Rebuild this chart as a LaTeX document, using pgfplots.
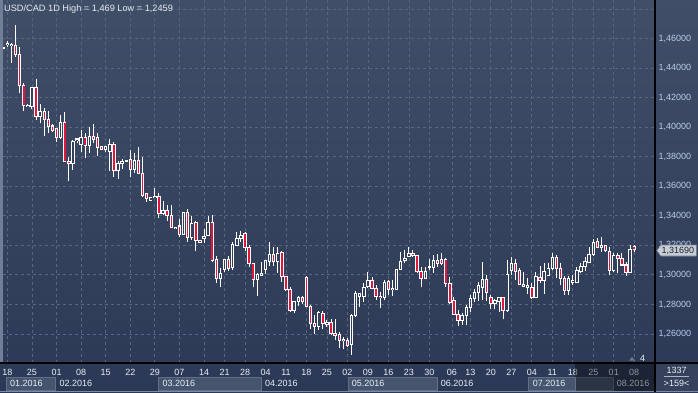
\documentclass[border=0pt]{standalone}
\usepackage{fontspec}
\setmainfont{Liberation Sans}
\usepackage{pgfplots}
\pgfplotsset{compat=1.18}
\usepackage{pgfplotstable}
\definecolor{bgtop}{RGB}{64,78,104}
\definecolor{bgbot}{RGB}{44,57,86}
\definecolor{gridc}{RGB}{88,102,130}
\definecolor{candred}{RGB}{226,22,60}
\definecolor{hollow}{RGB}{51,64,92}
\definecolor{ylab}{RGB}{186,204,232}
\definecolor{xlab}{RGB}{232,238,246}
\definecolor{monbox}{RGB}{70,84,110}
\definecolor{monborder}{RGB}{96,110,136}
\definecolor{panel}{RGB}{54,66,92}
\definecolor{tagc}{RGB}{200,204,212}
\definecolor{tagborder}{RGB}{120,128,142}
\definecolor{leftstrip}{RGB}{112,126,152}
\definecolor{sepc}{RGB}{170,180,196}
\definecolor{markc}{RGB}{110,122,146}
\definecolor{botline}{RGB}{128,138,156}
\definecolor{tagtext}{RGB}{30,36,52}
\definecolor{titlec}{RGB}{228,234,242}
\pgfplotstableread{
i o h l c
1 1.4533 1.4546 1.4526 1.4539
2 1.4560 1.4586 1.4545 1.4567
3 1.4556 1.4572 1.4433 1.4563
4 1.4556 1.4692 1.4477 1.4495
5 1.4495 1.4541 1.4229 1.4279
6 1.4279 1.4301 1.4112 1.4150
7 1.4140 1.4157 1.4135 1.4150
8 1.4139 1.4274 1.4121 1.4270
9 1.4270 1.4326 1.4049 1.4071
10 1.4071 1.4157 1.4026 1.4103
11 1.4103 1.4130 1.3940 1.4049
12 1.4049 1.4112 1.3959 1.4003
13 1.4008 1.4022 1.3969 1.3976
14 1.3988 1.3992 1.3902 1.3932
15 1.3927 1.4082 1.3918 1.4035
16 1.4035 1.4105 1.3766 1.3766
17 1.3766 1.3800 1.3638 1.3751
18 1.3751 1.3913 1.3710 1.3906
19 1.3909 1.3925 1.3891 1.3920
20 1.3886 1.3981 1.3834 1.3932
21 1.3932 1.3959 1.3789 1.3875
22 1.3875 1.3999 1.3823 1.3936
23 1.3936 1.4022 1.3891 1.3918
24 1.3927 1.3959 1.3805 1.3864
25 1.3866 1.3868 1.3846 1.3849
26 1.3846 1.3873 1.3834 1.3869
27 1.3837 1.3918 1.3705 1.3886
28 1.3886 1.3902 1.3665 1.3705
29 1.3705 1.3773 1.3649 1.3756
30 1.3751 1.3783 1.3715 1.3766
31 1.3770 1.3778 1.3766 1.3774
32 1.3783 1.3846 1.3661 1.3715
33 1.3715 1.3823 1.3692 1.3773
34 1.3773 1.3864 1.3683 1.3688
35 1.3688 1.3800 1.3529 1.3536
36 1.3548 1.3552 1.3496 1.3514
37 1.3507 1.3527 1.3504 1.3525
38 1.3527 1.3588 1.3521 1.3534
39 1.3534 1.3552 1.3383 1.3417
40 1.3417 1.3502 1.3405 1.3433
41 1.3433 1.3473 1.3367 1.3399
42 1.3399 1.3473 1.3315 1.3322
43 1.3314 1.3326 1.3313 1.3324
44 1.3331 1.3376 1.3259 1.3275
45 1.3275 1.3428 1.3270 1.3421
46 1.3421 1.3444 1.3225 1.3255
47 1.3255 1.3399 1.3236 1.3349
48 1.3353 1.3367 1.3164 1.3232
49 1.3233 1.3236 1.3214 1.3216
50 1.3245 1.3309 1.3218 1.3263
51 1.3268 1.3399 1.3263 1.3358
52 1.3358 1.3408 1.3089 1.3096
53 1.3101 1.3128 1.2947 1.2974
54 1.2974 1.3045 1.2920 1.3011
55 1.3038 1.3110 1.3022 1.3106
56 1.3106 1.3128 1.3028 1.3045
57 1.3051 1.3225 1.3033 1.3209
58 1.3202 1.3292 1.3196 1.3248
59 1.3248 1.3299 1.3225 1.3270
60 1.3277 1.3292 1.3164 1.3187
61 1.3187 1.3202 1.3051 1.3079
62 1.3079 1.3083 1.2916 1.2970
63 1.2970 1.3011 1.2857 1.3006
64 1.2999 1.3089 1.2999 1.3011
65 1.3038 1.3096 1.3006 1.3096
66 1.3089 1.3225 1.3060 1.3141
67 1.3141 1.3191 1.3060 1.3089
68 1.3089 1.3187 1.3015 1.3146
69 1.3150 1.3164 1.2954 1.2988
70 1.2988 1.2993 1.2893 1.2902
71 1.2902 1.2916 1.2751 1.2762
72 1.2758 1.2825 1.2744 1.2819
73 1.2819 1.2857 1.2789 1.2848
74 1.2848 1.2857 1.2803 1.2819
75 1.2984 1.2993 1.2781 1.2789
76 1.2785 1.2796 1.2632 1.2672
77 1.2672 1.2728 1.2600 1.2654
78 1.2654 1.2758 1.2627 1.2744
79 1.2740 1.2758 1.2632 1.2672
80 1.2664 1.2695 1.2649 1.2681
81 1.2679 1.2699 1.2593 1.2605
82 1.2605 1.2699 1.2559 1.2591
83 1.2598 1.2615 1.2503 1.2555
84 1.2564 1.2582 1.2496 1.2555
85 1.2559 1.2571 1.2514 1.2525
86 1.2532 1.2735 1.2459 1.2726
87 1.2726 1.2893 1.2713 1.2871
88 1.2857 1.2879 1.2785 1.2871
89 1.2857 1.2947 1.2819 1.2916
90 1.2920 1.3022 1.2909 1.2965
91 1.2961 1.2988 1.2902 1.2909
92 1.2909 1.2932 1.2830 1.2857
93 1.2857 1.2886 1.2774 1.2848
94 1.2848 1.2965 1.2830 1.2947
95 1.2954 1.2965 1.2864 1.2898
96 1.2898 1.2965 1.2857 1.2909
97 1.2902 1.3038 1.2898 1.3038
98 1.3038 1.3157 1.3033 1.3089
99 1.3096 1.3169 1.3079 1.3112
100 1.3123 1.3191 1.3119 1.3146
101 1.3146 1.3169 1.3119 1.3128
102 1.3128 1.3135 1.3015 1.3020
103 1.3022 1.3051 1.2916 1.2977
104 1.2977 1.3055 1.2970 1.3020
105 1.3049 1.3106 1.3033 1.3055
106 1.3051 1.3135 1.3015 1.3096
107 1.3096 1.3141 1.3055 1.3079
108 1.3101 1.3146 1.3067 1.3079
109 1.3106 1.3112 1.2920 1.2943
110 1.2943 1.2988 1.2803 1.2812
111 1.2825 1.2852 1.2728 1.2735
112 1.2735 1.2762 1.2654 1.2690
113 1.2690 1.2744 1.2661 1.2728
114 1.2728 1.2796 1.2661 1.2781
115 1.2781 1.2864 1.2751 1.2842
116 1.2842 1.2902 1.2819 1.2879
117 1.2879 1.2954 1.2825 1.2925
118 1.2916 1.3089 1.2830 1.2970
119 1.2970 1.2999 1.2825 1.2884
120 1.2848 1.2864 1.2767 1.2808
121 1.2808 1.2835 1.2767 1.2825
122 1.2819 1.2848 1.2751 1.2848
123 1.2848 1.2848 1.2699 1.2758
124 1.2758 1.3101 1.2751 1.3006
125 1.3033 1.3119 1.2999 1.3079
126 1.3079 1.3106 1.2965 1.3022
127 1.3028 1.3045 1.2932 1.2932
128 1.2938 1.3022 1.2916 1.2920
129 1.2916 1.2977 1.2871 1.2925
130 1.2916 1.2947 1.2835 1.2848
131 1.2848 1.3022 1.2842 1.2988
132 1.2984 1.3060 1.2947 1.2961
133 1.2961 1.3083 1.2871 1.3022
134 1.2999 1.3079 1.2993 1.3045
135 1.3045 1.3146 1.3033 1.3119
136 1.3119 1.3135 1.2977 1.3045
137 1.3045 1.3083 1.2932 1.2977
138 1.2977 1.2993 1.2864 1.2893
139 1.2893 1.2993 1.2864 1.2977
140 1.2947 1.2999 1.2932 1.2961
141 1.2947 1.3055 1.2943 1.3028
142 1.3022 1.3083 1.3015 1.3060
143 1.3055 1.3123 1.3028 1.3089
144 1.3083 1.3191 1.3079 1.3135
145 1.3135 1.3241 1.3128 1.3218
146 1.3225 1.3248 1.3180 1.3187
147 1.3187 1.3259 1.3157 1.3202
148 1.3196 1.3202 1.3157 1.3164
149 1.3157 1.3191 1.2999 1.3033
150 1.3033 1.3146 1.3022 1.3133
151 1.3128 1.3146 1.3011 1.3112
152 1.3112 1.3146 1.3060 1.3067
153 1.3067 1.3089 1.2993 1.3015
154 1.3015 1.3202 1.3011 1.3173
155 1.3191 1.3202 1.3157 1.3169
}\candles
\begin{document}
\begin{tikzpicture}[x=1pt,y=1pt]
\path[use as bounding box] (0,0) rectangle (698,392);
\shade[top color=bgtop, bottom color=bgbot] (0,0) rectangle (698,392);
\fill[panel] (655,0) rectangle (698,29);
\fill[leftstrip] (0,29) rectangle (2.6,392);
\begin{axis}[
  at={(3pt,29pt)}, anchor=south west,
  scale only axis, width=652pt, height=363pt,
  xmin=0.927, xmax=160.07, ymin=1.24035, ymax=1.4861,
  axis line style={draw=none},
  tick style={draw=none},
  xtick={2,8,14,20,26,32,38,44,50,55,60,65,70,75,80,85,90,95,100,105,110.5,115,120,125,130,135,140,145,150,155},
  xticklabels={18,25,01,08,15,22,29,07,14,21,28,04,11,18,25,02,09,16,23,30,06,13,20,27,04,11,18,25,01,08},
  ytick={1.26,1.28,1.30,1.32,1.34,1.36,1.38,1.40,1.42,1.44,1.46,1.48},
  yticklabels={{1,26000},{1,28000},{1,30000},{1,32000},{1,34000},{1,36000},{1,38000},{1,40000},{1,42000},{1,44000},{1,46000},{}},
  yticklabel pos=right,
  grid=major,
  major grid style={draw=gridc, line width=0.8pt, dash pattern=on 3pt off 3pt},
  xticklabel style={font=\fontsize{9}{10}\selectfont, text=xlab, anchor=base, inner sep=0pt, yshift=-12pt},
  yticklabel style={font=\fontsize{9}{10}\selectfont, text=ylab, anchor=west, inner sep=0pt, xshift=3.3pt},
]
% wicks
\addplot[draw=none, mark=none, forget plot,
  error bars/.cd, y dir=plus, y explicit, error mark=none,
  error bar style={draw=white, line width=1pt}]
  table[x=i, y=l, y error plus expr={\thisrow{h}-\thisrow{l}}] {\candles};
% body outline
\addplot[draw=none, mark=none, forget plot,
  error bars/.cd, y dir=plus, y explicit, error mark=none,
  error bar style={draw=white, line width=3.4pt}]
  table[x=i, y expr={min(\thisrow{o},\thisrow{c})-0.00034},
        y error plus expr={abs(\thisrow{c}-\thisrow{o})+0.00068}] {\candles};
% bearish fill
\addplot[draw=none, mark=none, forget plot,
  error bars/.cd, y dir=plus, y explicit, error mark=none,
  error bar style={draw=candred, line width=1.5pt}]
  table[x=i, y expr={min(\thisrow{o},\thisrow{c})+0.00034},
        y error plus expr={ifthenelse(\thisrow{o}>\thisrow{c}, max(0,\thisrow{o}-\thisrow{c}-0.00068), 0)}] {\candles};
% bullish fill
\addplot[draw=none, mark=none, forget plot,
  error bars/.cd, y dir=plus, y explicit, error mark=none,
  error bar style={draw=hollow, line width=1.5pt}]
  table[x=i, y expr={min(\thisrow{o},\thisrow{c})+0.00034},
        y error plus expr={ifthenelse(\thisrow{c}>\thisrow{o}, max(0,\thisrow{c}-\thisrow{o}-0.00068), 0)}] {\candles};
\end{axis}
% month bands
\begin{scope}[font=\fontsize{9}{10}\selectfont]
\filldraw[fill=monbox, draw=monborder, line width=0.8pt] (6,2) rectangle (55,14.7);
\filldraw[fill=monbox, draw=monborder, line width=0.8pt] (158.3,2) rectangle (261.7,14.7);
\filldraw[fill=monbox, draw=monborder, line width=0.8pt] (348.3,2) rectangle (437.3,14.7);
\filldraw[fill=monbox, draw=monborder, line width=0.8pt] (528.3,2) rectangle (613.3,14.7);
\node[anchor=base west, inner sep=0pt, text=xlab] at (10,5.6) {01.2016};
\node[anchor=base west, inner sep=0pt, text=xlab] at (59.3,5.6) {02.2016};
\node[anchor=base west, inner sep=0pt, text=xlab] at (162.3,5.6) {03.2016};
\node[anchor=base west, inner sep=0pt, text=xlab] at (265,5.6) {04.2016};
\node[anchor=base west, inner sep=0pt, text=xlab] at (351.7,5.6) {05.2016};
\node[anchor=base west, inner sep=0pt, text=xlab] at (440.7,5.6) {06.2016};
\node[anchor=base west, inner sep=0pt, text=xlab] at (532.7,5.6) {07.2016};
\node[anchor=base west, inner sep=0pt, text=xlab] at (616.7,5.6) {08.2016};
\fill[black, opacity=0.38] (575,1.5) rectangle (655,28.5);
\draw[monborder, line width=0.8pt] (575.5,1.5) -- (575.5,14.7);
% right bottom panel
\node[anchor=base, inner sep=0pt, text=xlab] at (676.5,19) {1337};
\draw[sepc, line width=0.6pt] (664,15.8) -- (689,15.8);
\node[anchor=base, inner sep=0pt, text=xlab] at (676.5,5.2) {>159<};
% small marker and count
\fill[markc] (629,31.5) -- (635,31.5) -- (632,35) -- cycle;
\node[anchor=base, inner sep=0pt, text=xlab] at (642.5,30.5) {4};
\end{scope}
% axis lines
\fill[botline] (0,0) rectangle (698,1.5);
\draw[black, line width=1.2pt] (0,29) -- (698,29);
\draw[black, line width=1.2pt] (655,0) -- (655,392);
% price tag
\filldraw[fill=tagc, draw=tagborder, line width=0.6pt] (656.8,141.5) -- (660.8,147) -- (696.3,147) -- (696.3,136) -- (660.8,136) -- cycle;
\node[anchor=base west, inner sep=0pt, text=tagtext, font=\fontsize{9}{10}\selectfont] at (661.5,138.3) {1,31690};
% title
\node[anchor=base west, inner sep=0pt, text=titlec, font=\fontsize{9.2}{10}\selectfont] at (4,380.8) {USD/CAD 1D High = 1,469 Low = 1,2459};
\end{tikzpicture}
\end{document}
